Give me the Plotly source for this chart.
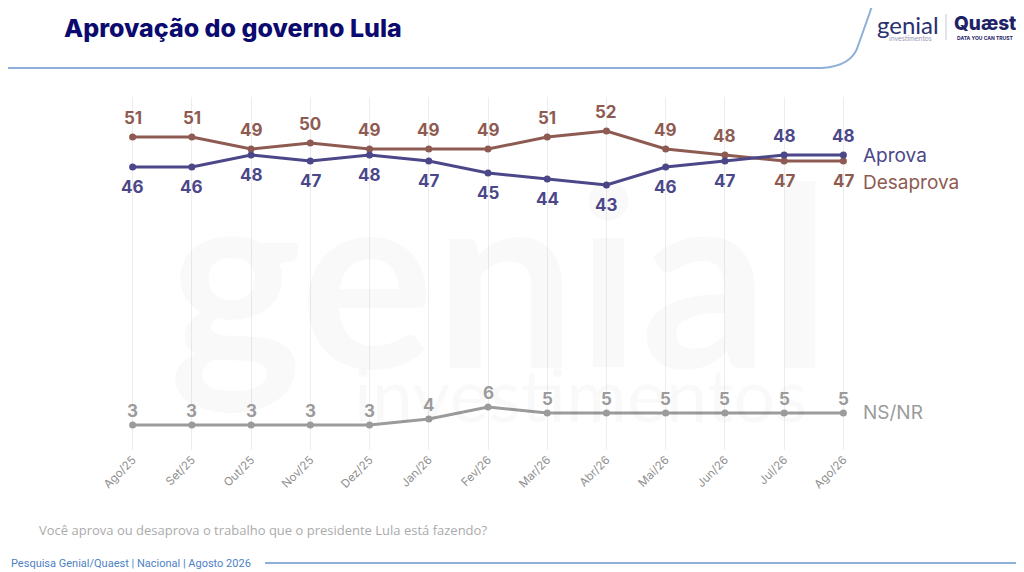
import plotly.graph_objects as go

# dados da pesquisa
meses = ["Ago/25", "Set/25", "Out/25", "Nov/25", "Dez/25", "Jan/26", "Fev/26",
         "Mar/26", "Abr/26", "Mai/26", "Jun/26", "Jul/26", "Ago/26"]
aprova = [46, 46, 48, 47, 48, 47, 45, 44, 43, 46, 47, 48, 48]
desaprova = [51, 51, 49, 50, 49, 49, 49, 51, 52, 49, 48, 47, 47]
nsnr = [3, 3, 3, 3, 3, 4, 6, 5, 5, 5, 5, 5, 5]

COR_APROVA = "#4B4789"
COR_DESAPROVA = "#8E5B52"
COR_NSNR = "#9B9B9B"

OFF = 8  # margem do <body> da página
W, H = 1024 - OFF, 572 - OFF
L, T = 103 - OFF, 97 - OFF
pw, ph = 770, 353
R, B = W - L - pw, H - T - ph


def px(x, y):
    """pixel da tela -> coordenadas paper"""
    return (x - OFF - L) / pw, (T + ph - (y - OFF)) / ph


def texto(x, y, txt, font, xanchor="center"):
    xp, yp = px(x, y)
    fig.add_annotation(x=xp, y=yp, xref="paper", yref="paper", text=txt, showarrow=False,
                       xanchor=xanchor, yanchor="middle", font=font)


fig = go.Figure()

# marca d'água (atrás de tudo não dá, então bem clara)
texto(500, 270, "genial", dict(family="Lato", size=252, color="rgba(0,0,0,0.022)", weight="bold"))
texto(580, 393, "investimentos", dict(family="Lato", size=74, color="rgba(0,0,0,0.025)"))

series = [
    ("Desaprova", desaprova, COR_DESAPROVA),
    ("Aprova", aprova, COR_APROVA),
    ("NS/NR", nsnr, COR_NSNR),
]
for nome, vals, cor in series:
    fig.add_trace(go.Scatter(
        x=meses, y=vals, name=nome, mode="lines+markers",
        line=dict(color=cor, width=3), marker=dict(color=cor, size=7),
        cliponaxis=False, showlegend=False,
    ))

# rótulos de dados: a linha de cima leva o número acima, a de baixo abaixo
for i, m in enumerate(meses):
    a, d, n = aprova[i], desaprova[i], nsnr[i]
    rot = [(d, COR_DESAPROVA, 19 if d > a else -20),
           (a, COR_APROVA, -20 if a < d else 19),
           (n, COR_NSNR, 14)]
    for v, cor, dy in rot:
        fig.add_annotation(x=m, y=v, text=str(v), showarrow=False, yshift=dy,
                           font=dict(family="Inter", size=17, color=cor, weight="bold"))

# rótulos das séries à direita
for nome, yv, cor, dy in [("Aprova", aprova[-1], COR_APROVA, 0),
                          ("Desaprova", aprova[-1], COR_DESAPROVA, -27),
                          ("NS/NR", nsnr[-1], COR_NSNR, 0)]:
    fig.add_annotation(x=meses[-1], y=yv, text=nome, showarrow=False, xanchor="left",
                       xshift=18, yshift=dy, font=dict(family="Inter", size=19, color=cor))

# título e textos
texto(62, 28, "Aprovação do governo Lula",
      dict(family="Inter", size=25, color="#0B0A6E", weight=800), "left")
texto(37, 530, "Você aprova ou desaprova o trabalho que o presidente Lula está fazendo?",
      dict(family="Open Sans", size=13, color="#ABABAB"), "left")
texto(9, 563, "Pesquisa Genial/Quaest | Nacional | Agosto 2026",
      dict(family="Roboto", size=11, color="#4D82C4"), "left")

# logos
texto(908, 25, "genial", dict(family="Lato", size=24, color="#2A2F6E"))
texto(911, 38, "investimentos", dict(family="Lato", size=7, color="#9A9AB5"))
texto(985, 23, "Quæst", dict(family="Inter", size=19, color="#1E2266", weight=800))
texto(985, 38, "DATA YOU CAN TRUST", dict(family="Inter", size=5, color="#1E2266", weight="bold"))

# linhas decorativas
pts = [(0, 68), (822, 68), (852, 66), (858, 46), (870, 12), (882, 0)]
pp = [px(*p) for p in pts]
path = "M {} {} L {} {} Q {} {} {} {} L {} {} Q {} {} {} {}".format(
    pp[0][0], pp[0][1], pp[1][0], pp[1][1], pp[2][0], pp[2][1], pp[3][0], pp[3][1],
    pp[4][0], pp[4][1], pp[4][0] + 0.004, pp[5][1], pp[5][0], pp[5][1])
fig.add_shape(type="path", path=path, xref="paper", yref="paper",
              line=dict(color="#8DAFD8", width=2))
x0, y0 = px(265, 563)
x1, _ = px(1024, 563)
fig.add_shape(type="line", x0=x0, x1=x1, y0=y0, y1=y0, xref="paper", yref="paper",
              line=dict(color="#8DAFD8", width=2))
sx, sy = px(946, 14)
_, sy2 = px(946, 40)
fig.add_shape(type="line", x0=sx, x1=sx, y0=sy, y1=sy2, xref="paper", yref="paper",
              line=dict(color="#C8C8D8", width=1))

fig.update_layout(
    width=W, height=H, margin=dict(l=L, r=R, t=T, b=B),
    paper_bgcolor="white", plot_bgcolor="white",
    xaxis=dict(type="category", range=[-0.5, 12.5], showgrid=True, gridcolor="#EDEDED",
               gridwidth=1, tickangle=-45, ticks="", showline=False, zeroline=False,
               tickfont=dict(family="Inter", size=11.5, color="#8F8F8F")),
    yaxis=dict(range=[-1.17, 57.67], visible=False, showgrid=False),
)

fig.write_html("out.html")
